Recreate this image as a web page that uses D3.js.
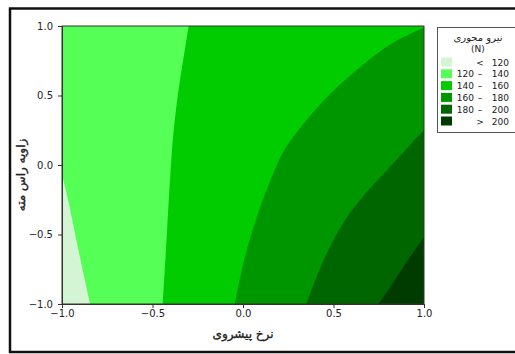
<!DOCTYPE html>
<html>
<head>
<meta charset="utf-8">
<script src="https://cdn.jsdelivr.net/npm/d3@7"></script>
<style>
  html, body { margin: 0; padding: 0; background: #fff; }
  svg { display: block; }
  text { font-family: "DejaVu Sans", Verdana, sans-serif; fill: #222; }
</style>
</head>
<body>
<svg id="chart" width="515" height="354"></svg>
<script>
// Contour bands of axial force (N) over feed rate (x) and drill point angle (y), coded units.
const levels = [120, 140, 160, 180, 200];
const bandColors = ["#d4f5d4", "#55ff55", "#00cc00", "#009600", "#006600", "#003c00"];

// Level lines, each traced as [feed rate, point angle] pairs.
const contour120 = [[-1, -0.07], [-0.965, -0.25], [-0.928, -0.5], [-0.89, -0.73], [-0.845, -1]];
const contour140 = [[-0.30, 1], [-0.32, 0.84], [-0.363, 0.5], [-0.396, 0.1], [-0.42, -0.5], [-0.444, -1]];
const contour160 = [[1, 0.99], [0.81, 0.875], [0.683, 0.743], [0.54, 0.59], [0.39, 0.39], [0.275, 0.2],
                    [0.21, 0.08], [0.145, -0.132], [0.10, -0.28], [0.045, -0.5], [0.01, -0.66], [-0.02, -0.83], [-0.045, -1]];
const contour180 = [[1, 0.25], [0.94, 0.17], [0.88, 0.08], [0.80, -0.03], [0.72, -0.14], [0.64, -0.26],
                    [0.573, -0.37], [0.472, -0.6], [0.40, -0.82], [0.35, -1]];
const contour200 = [[1, -0.52], [0.95, -0.61], [0.886, -0.73], [0.803, -0.9], [0.748, -1]];

const tickValues = [-1, -0.5, 0, 0.5, 1];
const xTitle = "نرخ پیشروی";
const yTitle = "زاویه راس مته";
const legendTitle = "نیرو محوری";
const legendUnit = "(N)";
const legendLow = ["", "120", "140", "160", "180", ""];
const legendSym = ["<", "–", "–", "–", "–", ">"];
const legendHigh = ["120", "140", "160", "180", "200", "200"];

const svg = d3.select("#chart");
const plot = { left: 62, right: 424, top: 26, bottom: 304 };

const x = d3.scaleLinear().domain([-1, 1]).range([plot.left, plot.right]);
const y = d3.scaleLinear().domain([-1, 1]).range([plot.bottom, plot.top]);

// Outer frame
svg.append("rect")
  .attr("x", 10).attr("y", 8.5).attr("width", 520).attr("height", 343.5)
  .attr("fill", "none").attr("stroke", "#111").attr("stroke-width", 2.5);

const clipId = "plot-clip";
svg.append("clipPath").attr("id", clipId)
  .append("rect")
  .attr("x", plot.left).attr("y", plot.top)
  .attr("width", plot.right - plot.left).attr("height", plot.bottom - plot.top);

const g = svg.append("g").attr("clip-path", `url(#${clipId})`);

// Base band (120–140) covering the whole domain
g.append("rect")
  .attr("x", plot.left).attr("y", plot.top)
  .attr("width", plot.right - plot.left).attr("height", plot.bottom - plot.top)
  .attr("fill", bandColors[1]);

const curve = d3.line()
  .x(d => x(d[0])).y(d => y(d[1]))
  .curve(d3.curveBasis);

// Closes a level line into a region by running along the domain corners.
function region(points, corners) {
  const p = curve(points);
  const tail = corners.map(c => `L${x(c[0])},${y(c[1])}`).join("");
  return p + tail + "Z";
}

const [xmin, xmax] = x.domain();
const [ymin, ymax] = y.domain();

const regions = [
  { d: region(contour120, [[xmin, ymin]]), fill: bandColors[0] },
  { d: region(contour140, [[xmax, ymin], [xmax, ymax]]), fill: bandColors[2] },
  { d: region(contour160, [[xmax, ymin]]), fill: bandColors[3] },
  { d: region(contour180, [[xmax, ymin]]), fill: bandColors[4] },
  { d: region(contour200, [[xmax, ymin]]), fill: bandColors[5] }
];

g.selectAll("path.band")
  .data(regions)
  .join("path")
  .attr("class", "band")
  .attr("d", d => d.d)
  .attr("fill", d => d.fill);

// Plot border
svg.append("rect")
  .attr("x", plot.left).attr("y", plot.top)
  .attr("width", plot.right - plot.left).attr("height", plot.bottom - plot.top)
  .attr("fill", "none").attr("stroke", "#333").attr("stroke-width", 1);

// Axes
const fmt = d3.format(".1f");
const xAxis = svg.append("g")
  .attr("transform", `translate(0,${plot.bottom})`)
  .call(d3.axisBottom(x).tickValues(tickValues).tickFormat(fmt).tickSize(4).tickPadding(2));
const yAxis = svg.append("g")
  .attr("transform", `translate(${plot.left},0)`)
  .call(d3.axisLeft(y).tickValues(tickValues).tickFormat(fmt).tickSize(4).tickPadding(5));

[xAxis, yAxis].forEach(a => {
  a.select(".domain").attr("stroke", "#333");
  a.selectAll(".tick line").attr("stroke", "#333");
  a.selectAll(".tick text")
    .attr("font-size", 10)
    .attr("font-family", "DejaVu Sans, Verdana, sans-serif")
    .attr("fill", "#333");
});

// Axis titles (regular weight with a thin stroke so the Arabic dots survive)
svg.append("text")
  .attr("x", (plot.left + plot.right) / 2).attr("y", 338)
  .attr("text-anchor", "middle")
  .attr("font-size", 12)
  .attr("stroke", "#222").attr("stroke-width", 0.35)
  .attr("direction", "rtl")
  .text(xTitle);

svg.append("text")
  .attr("transform", `translate(25,${(plot.top + plot.bottom) / 2 + 10}) rotate(-90)`)
  .attr("text-anchor", "middle")
  .attr("font-size", 12)
  .attr("stroke", "#222").attr("stroke-width", 0.35)
  .attr("direction", "rtl")
  .text(yTitle);

// Legend
const lg = svg.append("g");
lg.append("rect")
  .attr("x", 437.5).attr("y", 27.5).attr("width", 90).attr("height", 105)
  .attr("fill", "#fff").attr("stroke", "#555").attr("stroke-width", 1);

lg.append("text")
  .attr("x", 478).attr("y", 41)
  .attr("text-anchor", "middle").attr("font-size", 10)
  .attr("direction", "rtl")
  .text(legendTitle);
lg.append("text")
  .attr("x", 478).attr("y", 52)
  .attr("text-anchor", "middle").attr("font-size", 9)
  .text(legendUnit);

const rows = lg.selectAll("g.row")
  .data(bandColors)
  .join("g")
  .attr("class", "row")
  .attr("transform", (d, i) => `translate(0,${62 + i * 11.8})`);

rows.append("rect")
  .attr("x", 441).attr("y", -4.5).attr("width", 11).attr("height", 9)
  .attr("fill", d => d);

rows.append("text")
  .attr("x", 474).attr("y", 3.5)
  .attr("text-anchor", "end").attr("font-size", 9)
  .text((d, i) => legendLow[i]);
rows.append("text")
  .attr("x", 480).attr("y", 3.5)
  .attr("text-anchor", "middle").attr("font-size", 9)
  .text((d, i) => legendSym[i]);
rows.append("text")
  .attr("x", 509).attr("y", 3.5)
  .attr("text-anchor", "end").attr("font-size", 9)
  .text((d, i) => legendHigh[i]);
</script>
</body>
</html>
